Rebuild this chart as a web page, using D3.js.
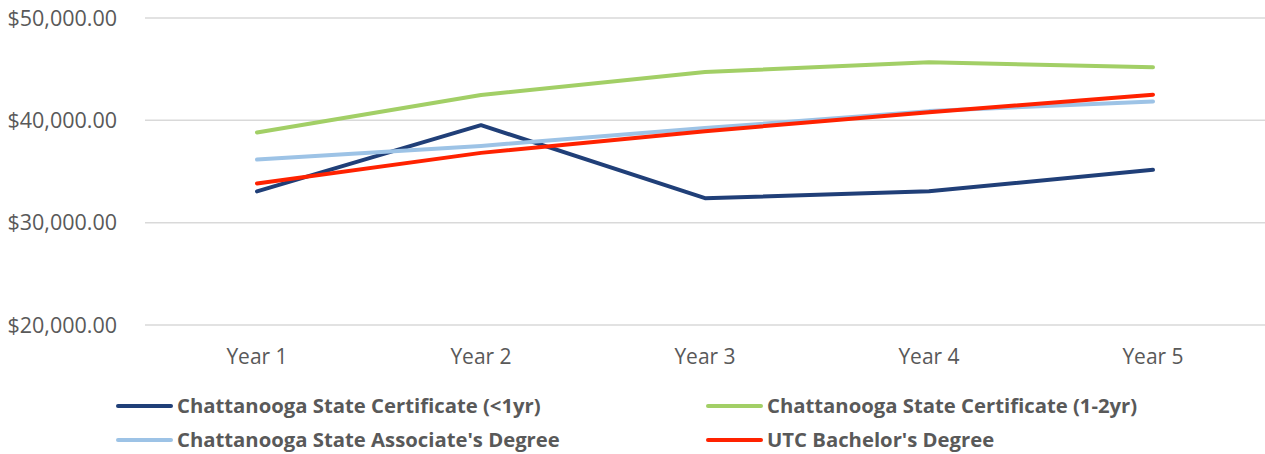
<!DOCTYPE html>
<html>
<head>
<meta charset="utf-8">
<script src="https://cdn.jsdelivr.net/npm/d3@7"></script>
<style>
  body { margin: 0; background: #fff; }
  svg { display: block; }
</style>
</head>
<body>
<div id="chart"></div>
<script>
// --- data ---
var years = ["Year 1", "Year 2", "Year 3", "Year 4", "Year 5"];
var yTicks = [20000, 30000, 40000, 50000];

var seriesNames = [
  "Chattanooga State Certificate (<1yr)",
  "Chattanooga State Certificate (1-2yr)",
  "Chattanooga State Associate's Degree",
  "UTC Bachelor's Degree"
];
var certShort = [33050, 39530, 32390, 33070, 35160];
var certLong = [38820, 42470, 44720, 45670, 45180];
var associate = [36170, 37500, 39240, 40900, 41850];
var bachelor = [33830, 36820, 38940, 40800, 42500];

var colors = ["#203f78", "#a2cf66", "#9dc3e6", "#ff2200"];

var W = 1265, H = 454;
var margin = { left: 145, right: 0, top: 18, bottom: 129 };

var svg = d3.select("#chart").append("svg")
  .attr("width", W)
  .attr("height", H);

var x = d3.scaleBand()
  .domain(years)
  .range([margin.left, W - margin.right]);

var y = d3.scaleLinear()
  .domain([20000, 50000])
  .range([H - margin.bottom, margin.top]);

// gridlines
svg.append("g")
  .selectAll("line")
  .data(yTicks)
  .enter()
  .append("line")
  .attr("x1", margin.left)
  .attr("x2", W)
  .attr("y1", function (d) { return y(d); })
  .attr("y2", function (d) { return y(d); })
  .attr("stroke", "#d9d9d9")
  .attr("stroke-width", 1.5);

// y axis labels
var fmt = d3.format("$,.2f");
svg.append("g")
  .selectAll("text")
  .data(yTicks)
  .enter()
  .append("text")
  .attr("x", 117)
  .attr("y", function (d) { return y(d); })
  .attr("dy", "0.35em")
  .attr("text-anchor", "end")
  .attr("font-family", "'Open Sans', sans-serif")
  .attr("font-size", "21.5px")
  .attr("fill", "#595959")
  .text(function (d) { return fmt(d); });

// x axis labels
svg.append("g")
  .selectAll("text")
  .data(years)
  .enter()
  .append("text")
  .attr("x", function (d) { return x(d) + x.bandwidth() / 2; })
  .attr("y", 357)
  .attr("dy", "0.35em")
  .attr("text-anchor", "middle")
  .attr("font-family", "'Open Sans', sans-serif")
  .attr("font-size", "21px")
  .attr("fill", "#595959")
  .text(function (d) { return d; });

// lines
var allSeries = [certShort, certLong, associate, bachelor];
var line = d3.line()
  .x(function (d, i) { return x(years[i]) + x.bandwidth() / 2; })
  .y(function (d) { return y(d); });

// draw order: dark blue, light blue, green, red (red on top)
[0, 2, 1, 3].forEach(function (k) {
  svg.append("path")
    .datum(allSeries[k])
    .attr("d", line)
    .attr("fill", "none")
    .attr("stroke", colors[k])
    .attr("stroke-width", 4)
    .attr("stroke-linejoin", "round")
    .attr("stroke-linecap", "round");
});

// legend
var legendPos = [
  { x: 118, y: 406 },
  { x: 708, y: 406 },
  { x: 118, y: 440 },
  { x: 708, y: 440 }
];
var legend = svg.append("g")
  .selectAll("g")
  .data(seriesNames)
  .enter()
  .append("g")
  .attr("transform", function (d, i) {
    return "translate(" + legendPos[i].x + "," + legendPos[i].y + ")";
  });

legend.append("line")
  .attr("x1", 0)
  .attr("x2", 53)
  .attr("stroke", function (d, i) { return colors[i]; })
  .attr("stroke-width", 4)
  .attr("stroke-linecap", "round");

legend.append("text")
  .attr("x", 59)
  .attr("dy", "0.35em")
  .attr("font-family", "'Open Sans', sans-serif")
  .attr("font-weight", "bold")
  .attr("font-size", "20.3px")
  .attr("fill", "#595959")
  .text(function (d) { return d; });
</script>
</body>
</html>
